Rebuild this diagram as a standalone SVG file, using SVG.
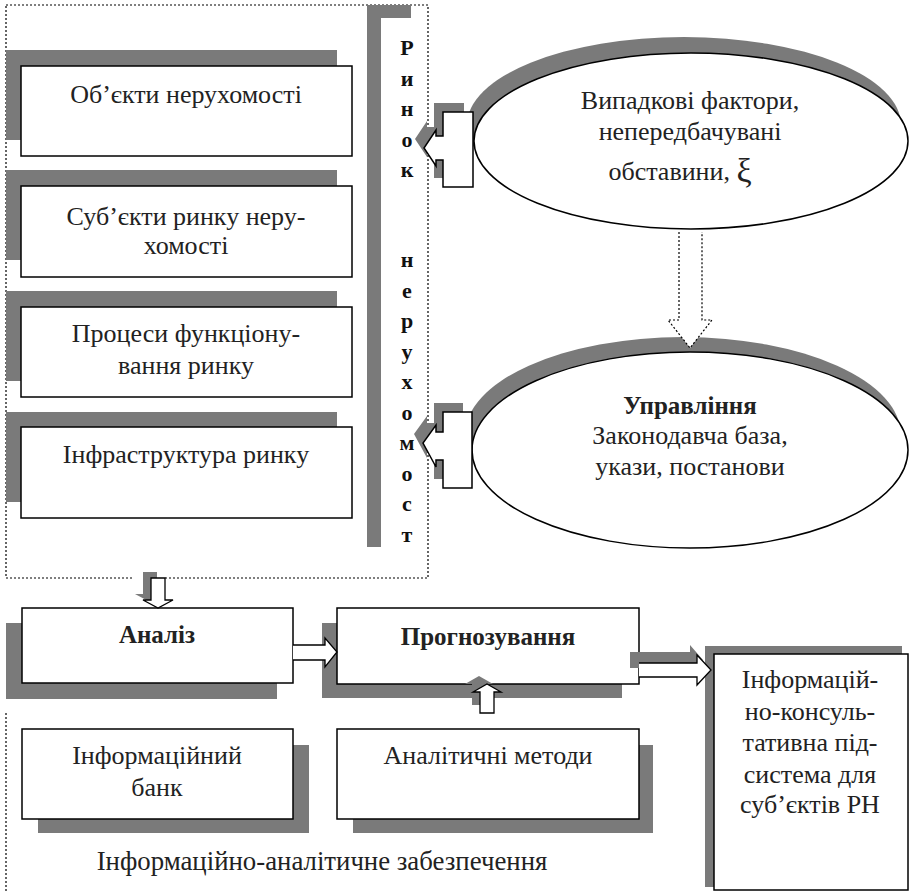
<svg xmlns="http://www.w3.org/2000/svg" width="910" height="893" viewBox="0 0 910 893">
<style>
.sh{fill:#7a7a7a;stroke:none}
.bx{fill:#fff;stroke:#000;stroke-width:1.5}
.dot{fill:none;stroke:#000;stroke-width:1.2;stroke-dasharray:2 2}
.t{font-family:"Liberation Serif","Times New Roman",serif;font-size:26px;fill:#222;text-anchor:middle}
.b{font-weight:bold;font-size:25px}
.v{font-family:"Liberation Serif","Times New Roman",serif;font-size:22px;font-weight:bold;fill:#111;text-anchor:middle}
.ar{fill:#fff;stroke:#000;stroke-width:1.3}
</style>
<rect width="910" height="893" fill="#fff"/>

<g id="frames">
<path class="dot" d="M6,5 H428 V578 H165 M132,578 H6 V5"/>
<path class="dot" d="M6,713 V893"/>
</g>

<g id="market">
<rect class="sh" x="367" y="5" width="14" height="542"/>
<rect class="sh" x="367" y="5" width="44" height="13"/>
<text class="v" x="407" y="55">Р</text>
<text class="v" x="407" y="86">и</text>
<text class="v" x="407" y="116">н</text>
<text class="v" x="407" y="147">о</text>
<text class="v" x="407" y="177">к</text>
<text class="v" x="407" y="267">н</text>
<text class="v" x="407" y="298">е</text>
<text class="v" x="407" y="328">р</text>
<text class="v" x="407" y="359">у</text>
<text class="v" x="407" y="389">х</text>
<text class="v" x="407" y="420">о</text>
<text class="v" x="407" y="450">м</text>
<text class="v" x="407" y="481">о</text>
<text class="v" x="407" y="511">с</text>
<text class="v" x="407" y="542">т</text>
</g>

<g id="objects">
<rect class="sh" x="6" y="50" width="331" height="90"/>
<rect class="bx" x="21" y="66" width="331" height="90"/>
<text class="t" x="186" y="103">Об’єкти нерухомості</text>
</g>
<g id="subjects">
<rect class="sh" x="6" y="170" width="331" height="90"/>
<rect class="bx" x="21" y="186" width="331" height="91"/>
<text class="t" x="186" y="225">Суб’єкти ринку неру-</text>
<text class="t" x="186" y="254">хомості</text>
</g>
<g id="processes">
<rect class="sh" x="6" y="291" width="331" height="90"/>
<rect class="bx" x="21" y="307" width="331" height="90"/>
<text class="t" x="186" y="342">Процеси функціону-</text>
<text class="t" x="186" y="374">вання ринку</text>
</g>
<g id="infrastructure">
<rect class="sh" x="6" y="412" width="331" height="90"/>
<rect class="bx" x="21" y="427" width="331" height="91"/>
<text class="t" x="186" y="463">Інфраструктура ринку</text>
</g>

<g id="random">
<ellipse class="sh" cx="684" cy="125" rx="217" ry="88"/>
<ellipse class="bx" cx="691" cy="141" rx="217" ry="88"/>
<path class="sh" d="M434,103 H464 V178 H434 V151 H427 V157 L415,139 L427,121 V127 H434 Z"/>
<path class="bx" d="M443,112 H473 V187 H443 V160 H436 V166 L424,148 L436,130 V136 H443 Z"/>
<text class="t" x="690" y="109">Випадкові фактори,</text>
<text class="t" x="690" y="140">непередбачувані</text>
<text class="t" x="680" y="180">обставини, <tspan font-size="34" dy="2">ξ</tspan></text>
</g>

<g id="control">
<ellipse class="sh" cx="683" cy="435" rx="218" ry="98"/>
<ellipse class="bx" cx="690" cy="450" rx="218" ry="98"/>
<path class="sh" d="M434,403 H463 V479 H434 V451 H427 V458 L414,434 L427,416 V423 H434 Z"/>
<path class="bx" d="M443,412 H472 V488 H443 V460 H436 V467 L423,443 L436,425 V432 H443 Z"/>
<text class="t b" x="690" y="414">Управління</text>
<text class="t" x="690" y="444">Законодавча база,</text>
<text class="t" x="690" y="475">укази, постанови</text>
</g>

<g id="analysis">
<rect class="sh" x="6" y="623" width="271" height="76"/>
<rect class="bx" x="22" y="608" width="271" height="75"/>
<text class="t b" x="157" y="643">Аналіз</text>
</g>
<g id="forecast">
<rect class="sh" x="322" y="623" width="300" height="75"/>
<rect class="bx" x="337" y="608" width="302" height="76"/>
<text class="t b" x="488" y="645">Прогнозування</text>
</g>
<g id="infobank">
<rect class="sh" x="38" y="745" width="271" height="88"/>
<rect class="bx" x="22" y="729" width="271" height="90"/>
<text class="t" x="157" y="764">Інформаційний</text>
<text class="t" x="157" y="796">банк</text>
</g>
<g id="methods">
<rect class="sh" x="353" y="745" width="300" height="88"/>
<rect class="bx" x="337" y="729" width="302" height="90"/>
<text class="t" x="488" y="764">Аналітичні методи</text>
</g>
<g id="consult">
<rect class="sh" x="705" y="646" width="197" height="241"/>
<rect class="bx" x="714" y="654" width="194" height="236"/>
<text class="t" x="810" y="688">Інформацій-</text>
<text class="t" x="810" y="720">но-консуль-</text>
<text class="t" x="810" y="751">тативна під-</text>
<text class="t" x="810" y="783">система для</text>
<text class="t" x="810" y="813">суб’єктів РН</text>
</g>

<text class="t" x="322" y="870" style="font-size:26.8px">Інформаційно-аналітичне забезпечення</text>

<g id="connectors">
<path d="M679,232 V320 H668 L690,348 L712,320 H702 V232" fill="#fff" stroke="#000" stroke-width="1.2" stroke-dasharray="2 2"/>
<path class="sh" d="M143,572 H157 V594 H165 L150,602 L135,594 H143 Z"/>
<path class="ar" d="M151,578 H165 V600 H173 L158,608 L143,600 H151 Z"/>
<path class="ar" d="M293,645 H325 V638 L337,652 L325,667 V660 H293"/>
<path class="sh" d="M630,652 H690 V645 L703,660 L690,675 V668 H630 Z"/>
<path class="ar" d="M639,663 H697 V655 L711,670 L697,685 V677 H639"/>
<path class="sh" d="M472,705 V684 H465 L479,676 L493,684 H486 V705 Z"/>
<path class="ar" d="M480,713 V692 H473 L487,684 L501,692 H494 V713 Z"/>
</g>
</svg>
